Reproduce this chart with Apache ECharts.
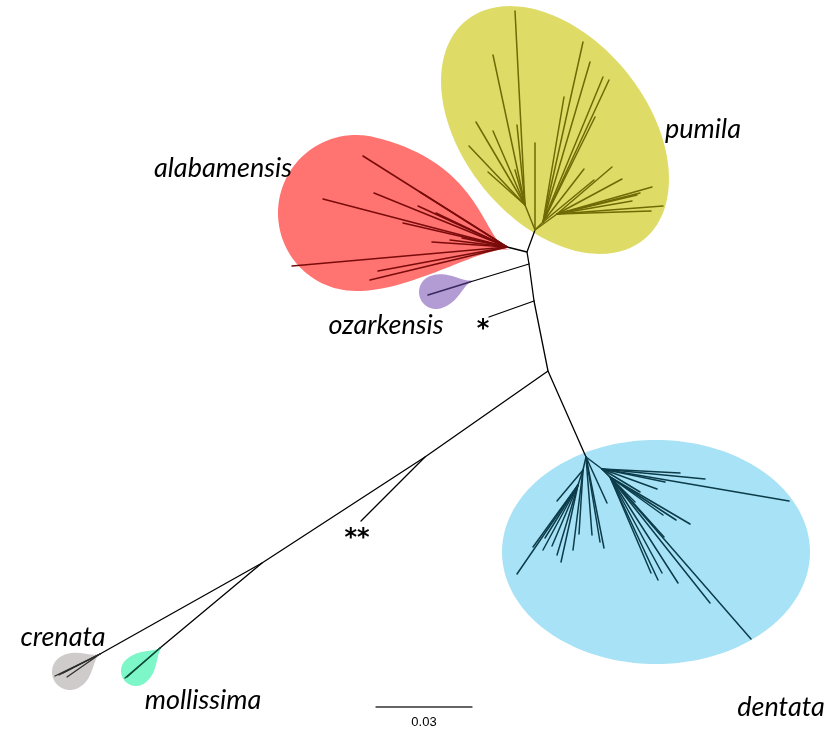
<!DOCTYPE html>
<html>
<head>
<meta charset="utf-8">
<script src="https://cdn.jsdelivr.net/npm/echarts@6/dist/echarts.min.js"></script>
<style>
  html, body { margin: 0; padding: 0; background: #fff; }
  #chart { width: 838px; height: 731px; }
</style>
</head>
<body>
<div id="chart"></div>
<script>
// ---- Tree layout (unrooted, equal-angle layout coordinates) ----

// Backbone branches connecting the species clades
const backboneEdges = [
  [[527, 252], [535, 230]],
  [[507, 247], [527, 252], [529, 264], [534, 301], [548, 371], [586, 457]],
  [[529, 264], [470, 282]],
  [[534, 301], [489, 317]],
  [[548, 371], [425, 457], [262, 563], [100, 654]],
  [[425, 457], [361, 521]],
  [[262, 563], [160, 648]]
];

// Castanea pumila
const pumilaEdges = [
  [[535, 230], [525, 205], [515, 11]],
  [[525, 205], [493, 55]],
  [[525, 205], [476, 122]],
  [[525, 205], [469, 146]],
  [[525, 205], [488, 172]],
  [[525, 205], [493, 131]],
  [[525, 205], [517, 125]],
  [[525, 205], [515, 170]],
  [[535, 230], [535, 143]],
  [[535, 230], [543, 222], [583, 42]],
  [[543, 222], [590, 62]],
  [[543, 222], [564, 97]],
  [[543, 222], [603, 77]],
  [[543, 222], [609, 80]],
  [[543, 222], [595, 117]],
  [[543, 222], [584, 169]],
  [[543, 222], [594, 180]],
  [[535, 230], [557, 214], [612, 167]],
  [[557, 214], [622, 179]],
  [[557, 214], [652, 187]],
  [[557, 214], [663, 206]],
  [[557, 214], [651, 211]],
  [[557, 214], [640, 193]],
  [[557, 214], [637, 195]],
  [[557, 214], [632, 201]]
];

// Castanea alabamensis
const alabamensisEdges = [
  [[507, 247], [363, 156]],
  [[507, 247], [374, 193]],
  [[507, 247], [323, 199]],
  [[507, 247], [420, 192]],
  [[507, 247], [418, 206]],
  [[507, 247], [436, 213]],
  [[507, 247], [403, 223]],
  [[507, 247], [432, 242]],
  [[507, 247], [450, 240]],
  [[507, 247], [462, 238]],
  [[507, 247], [292, 266]],
  [[507, 247], [378, 271]],
  [[507, 247], [370, 280]]
];

// Castanea ozarkensis
const ozarkensisEdges = [
  [[470, 282], [428, 295]]
];

// Castanea dentata
const dentataEdges = [
  [[586, 457], [583, 470], [557, 501]],
  [[583, 470], [578, 485], [533, 547]],
  [[578, 485], [517, 574]],
  [[578, 485], [543, 550]],
  [[578, 485], [552, 546]],
  [[578, 485], [557, 555]],
  [[578, 485], [561, 562]],
  [[578, 485], [545, 538]],
  [[583, 470], [573, 550]],
  [[583, 470], [579, 534]],
  [[586, 457], [592, 535]],
  [[586, 457], [600, 542]],
  [[586, 457], [604, 548]],
  [[586, 457], [607, 503]],
  [[586, 457], [602, 469], [680, 473]],
  [[602, 469], [705, 479]],
  [[602, 469], [665, 482]],
  [[602, 469], [657, 489]],
  [[602, 469], [640, 492]],
  [[602, 469], [789, 501]],
  [[602, 469], [635, 502]],
  [[602, 469], [610, 477], [663, 515]],
  [[610, 477], [676, 520]],
  [[610, 477], [690, 524]],
  [[610, 477], [664, 537]],
  [[610, 477], [651, 573]],
  [[610, 477], [658, 580]],
  [[610, 477], [662, 573]],
  [[610, 477], [678, 583]],
  [[610, 477], [710, 603]],
  [[610, 477], [751, 639]]
];

// Castanea crenata
const crenataEdges = [
  [[100, 654], [55, 676]],
  [[100, 654], [59, 675]],
  [[100, 654], [63, 673]],
  [[100, 654], [67, 677]]
];

// Castanea mollissima
const mollissimaEdges = [
  [[160, 648], [125, 678]],
  [[160, 648], [127, 677]]
];

// Clade hulls: ellipses [cx, cy, semi-major, semi-minor, rotation in degrees]
const ellipseHulls = [
  ['pumila', 555, 130, 141, 92, 51],
  ['dentata', 656, 552, 154, 112, 0]
];
// Teardrop hulls: [name, cx, cy, radius, tipX, tipY, upper shoulder, lower shoulder, tip pinch]
const teardropHulls = [
  ['alabamensis', 356, 213, 78, 510, 250, 0.72, 0.38, 0.18],
  ['ozarkensis', 436, 292, 17, 474, 280, 0.5, 0.5, 0.3],
  ['crenata', 70, 672, 18, 101, 653, 0.5, 0.5, 0.3],
  ['mollissima', 136, 671, 15, 163, 646, 0.5, 0.5, 0.3]
];

// Species labels and support marks
const taxonLabels = [
  [223, 168, 'alabamensis'],
  [703, 129, 'pumila'],
  [386, 325, 'ozarkensis'],
  [781, 707, 'dentata'],
  [63, 637, 'crenata'],
  [203, 700, 'mollissima']
];
const supportMarks = [
  [483, 330, '*'],
  [357, 539, '**']
];

// Scale bar: 0.03 substitutions per site
const scaleBar = [[376, 707], [472, 707]];
const scaleLabel = [[424, 722, '0.03']];

const hullColors = {
  pumila: '#dedc66',
  dentata: '#a8e2f6',
  alabamensis: '#ff7371',
  ozarkensis: '#b39bd3',
  crenata: '#cfcbcb',
  mollissima: '#7df7c8'
};

function ellipsePoints(cx, cy, a, b, rotDeg) {
  const th = rotDeg * Math.PI / 180, c = Math.cos(th), s = Math.sin(th);
  const pts = [];
  for (let i = 0; i < 180; i++) {
    const t = i / 180 * Math.PI * 2;
    const ex = a * Math.cos(t), ey = b * Math.sin(t);
    pts.push([cx + ex * c - ey * s, cy + ex * s + ey * c]);
  }
  return pts;
}

function cubic(p0, p1, p2, p3, t) {
  const m = 1 - t;
  return [
    m * m * m * p0[0] + 3 * m * m * t * p1[0] + 3 * m * t * t * p2[0] + t * t * t * p3[0],
    m * m * m * p0[1] + 3 * m * m * t * p1[1] + 3 * m * t * t * p2[1] + t * t * t * p3[1]
  ];
}

function teardropPoints(cx, cy, r, tx, ty, hUp, hLow, hTip) {
  const dx = tx - cx, dy = ty - cy, d = Math.hypot(dx, dy);
  const ux = dx / d, uy = dy / d;
  const nx = uy, ny = -ux;
  const at = phi => [cx + r * (Math.cos(phi) * ux + Math.sin(phi) * nx),
                     cy + r * (Math.cos(phi) * uy + Math.sin(phi) * ny)];
  const pts = [];
  const P1 = at(Math.PI / 2), P2 = at(-Math.PI / 2), T = [tx, ty];
  for (let i = 0; i <= 90; i++) pts.push(at(Math.PI / 2 + i / 90 * Math.PI));
  const l1 = [P2[0] + hLow * d * ux, P2[1] + hLow * d * uy];
  const l2 = [tx - hTip * d * ux, ty - hTip * d * uy];
  for (let i = 1; i <= 40; i++) pts.push(cubic(P2, l1, l2, T, i / 40));
  const u1 = [tx - hTip * d * ux, ty - hTip * d * uy];
  const u2 = [P1[0] + hUp * d * ux, P1[1] + hUp * d * uy];
  for (let i = 1; i < 40; i++) pts.push(cubic(T, u1, u2, P1, i / 40));
  return pts;
}

const hullShapes = ellipseHulls.map(e => ({ name: e[0], pts: ellipsePoints(e[1], e[2], e[3], e[4], e[5]) }))
  .concat(teardropHulls.map(h => ({ name: h[0], pts: teardropPoints(h[1], h[2], h[3], h[4], h[5], h[6], h[7], h[8]) })));

function edgeSeries(edges, color, width) {
  return {
    type: 'lines',
    coordinateSystem: 'cartesian2d',
    polyline: true,
    silent: true,
    z: 3,
    lineStyle: { color: color, width: width, opacity: 1, cap: 'round', join: 'round' },
    data: edges.map(pl => ({ coords: pl }))
  };
}

// Text placed at data positions through the cartesian coordinate system
function textSeries(items, font) {
  return {
    type: 'custom',
    coordinateSystem: 'cartesian2d',
    silent: true,
    clip: false,
    z: 5,
    data: items,
    renderItem: (params, api) => {
      const p = api.coord([api.value(0), api.value(1)]);
      return {
        type: 'text',
        x: p[0],
        y: p[1],
        style: {
          text: items[params.dataIndex][2],
          font: font,
          fill: '#000000',
          align: 'center',
          verticalAlign: 'middle'
        }
      };
    }
  };
}

const chart = echarts.init(document.getElementById('chart'), null, { renderer: 'canvas' });
chart.setOption({
  animation: false,
  backgroundColor: '#ffffff',
  grid: { left: 0, right: 0, top: 0, bottom: 0 },
  xAxis: { type: 'value', min: 0, max: 838, show: false },
  yAxis: { type: 'value', min: 0, max: 731, inverse: true, show: false },
  series: [
    {
      type: 'custom',
      coordinateSystem: 'cartesian2d',
      silent: true,
      clip: false,
      z: 1,
      data: hullShapes.map((h, i) => [h.pts[0][0], h.pts[0][1], i]),
      renderItem: (params, api) => {
        const h = hullShapes[params.dataIndex];
        return {
          type: 'polygon',
          shape: { points: h.pts.map(p => api.coord(p)), smooth: 0 },
          style: { fill: hullColors[h.name], stroke: null }
        };
      }
    },
    edgeSeries(backboneEdges, '#000000', 1.3),
    edgeSeries(pumilaEdges, '#6e6a05', 1.5),
    edgeSeries(alabamensisEdges, '#7a0b0b', 1.5),
    edgeSeries(ozarkensisEdges, '#3a2a5c', 1.5),
    edgeSeries(dentataEdges, '#0c3c4a', 1.5),
    edgeSeries(crenataEdges, '#2a2a2a', 1.2),
    edgeSeries(mollissimaEdges, '#0f4a38', 1.3),
    edgeSeries([scaleBar], '#333333', 1.3),
    textSeries(taxonLabels, 'italic 27px Lato'),
    textSeries(supportMarks, 'bold 24px "DejaVu Sans"'),
    textSeries(scaleLabel, '13px "Liberation Sans"')
  ]
});
</script>
</body>
</html>
